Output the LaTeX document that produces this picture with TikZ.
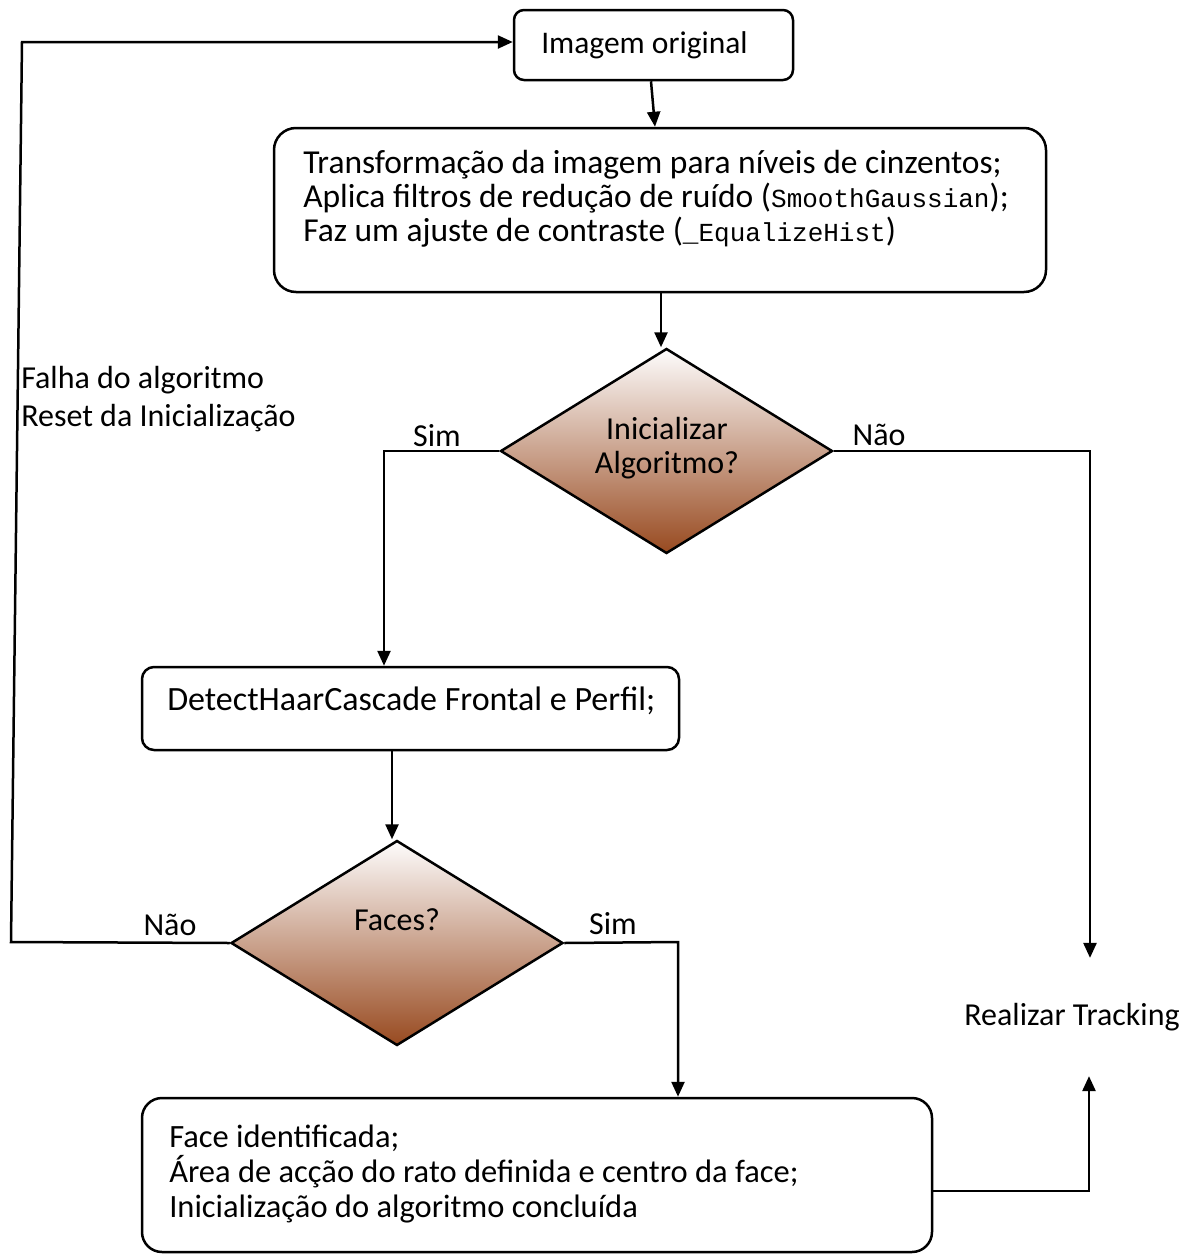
\documentclass[tikz,border=0pt]{standalone}
\usepackage{fontspec}
\setmainfont{Carlito}
\setmonofont{Liberation Mono}
\usetikzlibrary{shapes.geometric,arrows.meta}
\definecolor{shadetop}{RGB}{253,252,252}
\definecolor{shademid}{RGB}{212,188,184}
\definecolor{shadebot}{RGB}{152,74,32}
\newcommand{\codefont}{\fontsize{26}{34}\selectfont\ttfamily}
\begin{document}
\begin{tikzpicture}[x=1pt,y=-1pt,
  line width=2.5pt,
  every node/.style={font=\fontsize{32}{34.5}\selectfont, inner sep=0pt, line width=2.5pt},
  flowbox/.style={draw, rectangle},
  decision/.style={draw, diamond, minimum width=332pt, minimum height=205pt,
    top color=shadetop, middle color=shademid, bottom color=shadebot},
  txt/.style={anchor=west, align=left},
  arr/.style={-{Triangle[length=15pt,width=13pt]}},
]
\fill[white] (0,0) rectangle (1191,1256);
\useasboundingbox (0,0) rectangle (1191,1256);

% process boxes
\node[flowbox, rounded corners=10pt, minimum width=279pt, minimum height=70pt] (orig) at (653.5,45) {};
\node[txt, font=\fontsize{31.5}{34}\selectfont] (origtxt) at (540,45) {Imagem original};

\node[flowbox, rounded corners=22pt, minimum width=772pt, minimum height=164pt] (prep) at (660,210) {};
\node[txt, font=\fontsize{33.5}{34}\selectfont] (preptxt) at (302,199) {Transformação da imagem para níveis de cinzentos;\\
  Aplica filtros de redução de ruído ({\codefont SmoothGaussian});\\
  Faz um ajuste de contraste ({\codefont \_EqualizeHist})};

\node[flowbox, rounded corners=12pt, minimum width=537pt, minimum height=83pt] (detect) at (410.5,708.5) {};
\node[txt, font=\fontsize{34}{34}\selectfont] (detecttxt) at (166,701) {DetectHaarCascade Frontal e Perfil;};

\node[flowbox, rounded corners=20pt, minimum width=790pt, minimum height=154pt] (result) at (537,1175) {};
\node[txt, font=\fontsize{32.5}{35}\selectfont] (resulttxt) at (168,1174) {Face identificada;\\
  Área de acção do rato definida e centro da face;\\
  Inicialização do algoritmo concluída};

% decisions
\node[decision] (dec1) at (666.5,451) {};
\node[align=center] (dec1txt) at (667,448) {Inicializar\\Algoritmo?};
\node[decision] (dec2) at (397,943) {};
\node (dec2txt) at (397,920) {Faces?};

% free texts
\node[inner ysep=44pt] (track) at (1072,1017) {Realizar Tracking};
\node[txt, font=\fontsize{32}{38}\selectfont] (fail) at (20,399) {Falha do algoritmo\\Reset da Inicialização};

% branch labels
\node (sim1) at (437,436) {Sim};
\node (nao1) at (879,435) {Não};
\node (nao2) at (170,925) {Não};
\node (sim2) at (613,924) {Sim};

% bend points
\coordinate (simbend) at (384,451);
\coordinate (naobend) at (1090,451);
\coordinate (lb) at (11,942);
\coordinate (lt) at (22,42);
\coordinate (sb) at (678,942);
\coordinate (rb) at (1089,1191);

% connectors
\draw[arr] ([xshift=-2.5pt]orig.south) -- ([xshift=-5pt]prep.north);
\draw[arr] ([xshift=1pt]prep.south) -- ([xshift=1pt]prep.south |- dec1.north);
\draw[arr] (dec1.west) -- (simbend) -- (simbend |- detect.north);
\draw[arr] (dec1.east) -- (naobend) -- (naobend |- track.north);
\draw[arr] ([xshift=-18.5pt]detect.south) -- ([xshift=-18.5pt]detect.south |- dec2.north);
\draw[arr] (dec2.west) -- (lb) -- (lt) -- (lt -| orig.west);
\draw[arr] (dec2.east) -- (sb) -- (sb |- result.north);
\draw[arr] (result.east |- rb) -- (rb) -- (rb |- track.south);
\end{tikzpicture}
\end{document}
